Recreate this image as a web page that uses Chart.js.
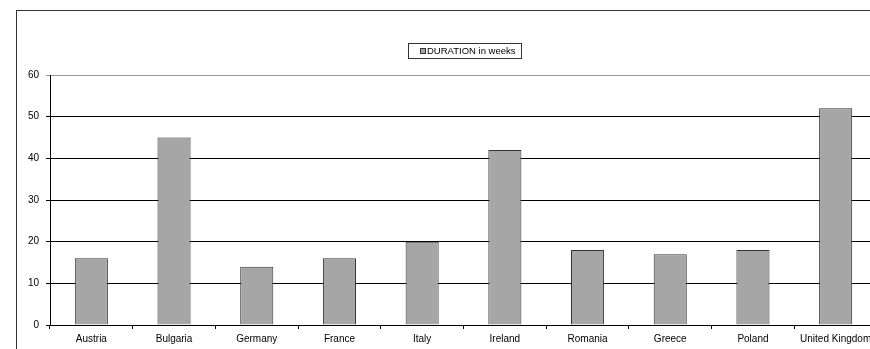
<!DOCTYPE html>
<html>
<head>
<meta charset="utf-8">
<script src="https://cdn.jsdelivr.net/npm/chart.js@4/dist/chart.umd.min.js"></script>
<style>
  html, body { margin: 0; padding: 0; background: #fff; overflow: hidden; }
  #wrap { position: relative; width: 870px; height: 349px; overflow: hidden; }
  canvas { position: absolute; left: 0; top: 0; }
</style>
</head>
<body>
<div id="wrap"><canvas id="chart" width="900" height="349"></canvas></div>
<script>
const countries = ['Austria', 'Bulgaria', 'Germany', 'France', 'Italy', 'Ireland', 'Romania', 'Greece', 'Poland', 'United Kingdom'];
const durationWeeks = [16, 45, 14, 16, 20, 42, 18, 17, 18, 52];
const seriesName = 'DURATION in weeks';
const yTicks = [0, 10, 20, 30, 40, 50, 60];

const FONT = '"Liberation Sans", Arial, sans-serif';

// Outer chart frame and boxed legend above the plot
const framePlugin = {
  id: 'frame',
  beforeDraw(chart) {
    const ctx = chart.ctx;
    ctx.save();
    ctx.fillStyle = '#fff';
    ctx.fillRect(0, 0, chart.width, chart.height);
    ctx.strokeStyle = '#333';
    ctx.lineWidth = 1;
    ctx.strokeRect(16.5, 10.5, 2000, 2000);
    ctx.restore();
  },
  afterDraw(chart) {
    const ctx = chart.ctx;
    ctx.save();
    ctx.font = '9.5px ' + FONT;
    const tw = ctx.measureText(seriesName).width;
    const bx = 408.5, by = 43.5, bh = 15;
    const bw = Math.round(tw + 24);
    ctx.strokeStyle = '#333';
    ctx.lineWidth = 1;
    ctx.strokeRect(bx, by, bw, bh);
    ctx.fillStyle = '#a6a6a6';
    ctx.fillRect(bx + 12, by + 5, 5, 5);
    ctx.strokeRect(bx + 12, by + 5, 5, 5);
    ctx.fillStyle = '#000';
    ctx.textBaseline = 'middle';
    ctx.textAlign = 'left';
    ctx.fillText(seriesName, bx + 18.5, by + bh / 2 + 0.5);
    ctx.restore();
  }
};

new Chart(document.getElementById('chart'), {
  type: 'bar',
  data: {
    labels: countries,
    datasets: [{
      label: seriesName,
      data: durationWeeks,
      backgroundColor: '#a6a6a6',
      borderColor: '#333',
      borderWidth: 1,
      categoryPercentage: 1.0,
      barPercentage: 0.4
    }]
  },
  options: {
    responsive: false,
    animation: false,
    layout: { padding: { top: 75, right: 23, bottom: 0, left: 0 } },
    plugins: { legend: { display: false }, tooltip: { enabled: false } },
    scales: {
      x: {
        afterFit(scale) { scale.height = 24; },
        grid: { offset: true, drawOnChartArea: false, drawTicks: true, tickLength: 4, color: '#000' },
        border: { display: true, color: '#000', width: 1 },
        ticks: { color: '#000', font: { family: FONT, size: 10 }, padding: 4, maxRotation: 0, autoSkip: false }
      },
      y: {
        min: 0,
        max: 60,
        afterFit(scale) { scale.width = 50; },
        afterBuildTicks(scale) { scale.ticks = yTicks.map(v => ({ value: v })); },
        grid: {
          color: ctx => (ctx.tick && ctx.tick.value === 60 ? '#999' : '#000'),
          tickLength: 4,
          lineWidth: 1
        },
        border: { display: true, color: '#000', width: 1 },
        ticks: { color: '#000', font: { family: FONT, size: 10 }, padding: 7 }
      }
    }
  },
  plugins: [framePlugin]
});
</script>
</body>
</html>
